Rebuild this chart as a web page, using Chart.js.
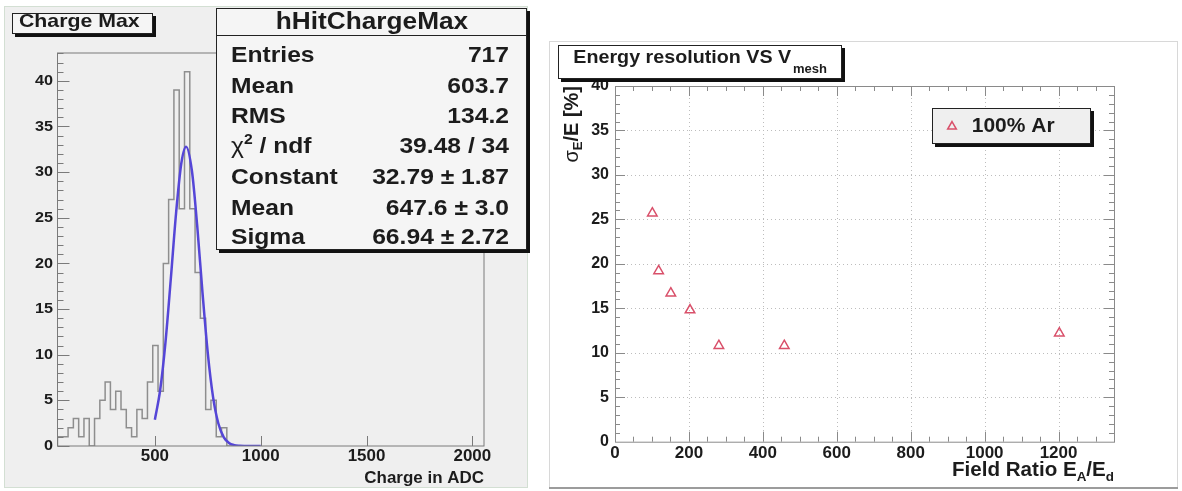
<!DOCTYPE html>
<html>
<head>
<meta charset="utf-8">
<script src="https://cdn.jsdelivr.net/npm/chart.js@4.4.1/dist/chart.umd.min.js"></script>
<style>
  html, body { margin: 0; padding: 0; background: #fff; }
  #wrap { position: relative; width: 1182px; height: 491px; overflow: hidden; }
  #c1 { position: absolute; left: 0; top: 0; }
  #c2 { position: absolute; left: 540px; top: 0; }
</style>
</head>
<body>
<div id="wrap">
  <canvas id="c1" width="540" height="491"></canvas>
  <canvas id="c2" width="642" height="491"></canvas>
</div>
<script>
// ---- left panel: charge histogram ----
const binLow = 40;
const binWidth = 25;
const counts = [1, 1, 1, 2, 3, 1, 3, 0, 3, 5, 7, 4, 6, 4, 2, 1, 4, 3,
                7, 11, 6, 20, 27, 39, 26, 41, 26, 19, 14, 4, 5, 1, 2];
// gaussian fit curve
const fitX = [500, 525, 550, 575, 600, 625, 647.6, 675, 700, 725, 750, 775, 800, 825, 850, 875, 900, 950, 1000];
const fitY = [2.88, 6.13, 11.33, 18.21, 25.46, 30.97, 32.79, 30.15, 24.13, 16.81, 10.18, 5.36, 2.46, 0.98, 0.34, 0.10, 0.03, 0, 0];
const xTicks1 = [500, 1000, 1500, 2000];
const yTicks1 = [0, 5, 10, 15, 20, 25, 30, 35, 40];
const statLabels = ['Entries', 'Mean', 'RMS', 'chi2', 'Constant', 'Mean', 'Sigma'];
const statValues = ['717', '603.7', '134.2', '39.48 / 34', '32.79 \u00b1 1.87', '647.6 \u00b1 3.0', '66.94 \u00b1 2.72'];

// ---- right panel: energy resolution ----
const fieldRatio = [101, 118, 151, 203, 281, 458, 1202];
const resolution = [25.7, 19.2, 16.7, 14.8, 10.8, 10.8, 12.2];
const xTicks2 = [0, 200, 400, 600, 800, 1000, 1200];
const yTicks2 = [0, 5, 10, 15, 20, 25, 30, 35, 40];

const FAM = '"Liberation Sans", Arial, Helvetica, sans-serif';
function font(size, bold) { return (bold ? 'bold ' : '') + size + 'px ' + FAM; }

// simple text, vertically centred
function txt(ctx, s, x, y, o) {
  ctx.save();
  ctx.translate(x, y);
  ctx.scale(o.sx || 1, 1);
  ctx.font = font(o.size, o.bold !== false);
  ctx.textAlign = o.align || 'left';
  ctx.textBaseline = 'middle';
  ctx.fillStyle = o.color || '#1c1c1c';
  ctx.fillText(s, 0, 0);
  ctx.restore();
}

// text made of pieces (sub/superscripts), on an alphabetic baseline
// parts: [text, size, dy, bold]
function rich(ctx, parts, x, y, align, sx) {
  ctx.save();
  ctx.translate(x, y);
  ctx.scale(sx || 1, 1);
  let w = 0;
  parts.forEach(p => { ctx.font = font(p[1], p[3] !== false); w += ctx.measureText(p[0]).width; });
  let cx = align === 'right' ? -w : (align === 'center' ? -w / 2 : 0);
  ctx.textAlign = 'left';
  ctx.textBaseline = 'alphabetic';
  ctx.fillStyle = '#1c1c1c';
  parts.forEach(p => {
    ctx.font = font(p[1], p[3] !== false);
    ctx.fillText(p[0], cx, p[2] || 0);
    cx += ctx.measureText(p[0]).width;
  });
  ctx.restore();
}

// ROOT style pave with a black shadow at right/bottom
function pave(ctx, x, y, w, h, fill, sh) {
  ctx.save();
  ctx.fillStyle = '#111';
  ctx.fillRect(x + sh, y + sh, w, h);
  ctx.fillStyle = fill;
  ctx.fillRect(x, y, w, h);
  ctx.strokeStyle = '#222';
  ctx.lineWidth = 1;
  ctx.strokeRect(x + 0.5, y + 0.5, w - 1, h - 1);
  ctx.restore();
}

function triangle(ctx, x, y, r, color) {
  ctx.save();
  ctx.strokeStyle = color;
  ctx.lineWidth = 1.5;
  ctx.beginPath();
  for (let k = 0; k < 3; k++) {
    const ang = k * 2 * Math.PI / 3;
    const px = x + Math.sin(ang) * r, py = y - Math.cos(ang) * r;
    if (k === 0) ctx.moveTo(px, py); else ctx.lineTo(px, py);
  }
  ctx.closePath();
  ctx.stroke();
  ctx.restore();
}

const leftDecor = {
  id: 'leftDecor',
  beforeDraw(chart) {
    const ctx = chart.ctx;
    ctx.save();
    ctx.fillStyle = '#fff';
    ctx.fillRect(0, 0, chart.width, chart.height);
    ctx.fillStyle = '#efefef';
    ctx.fillRect(4, 6, 523, 481);
    ctx.strokeStyle = '#d3dfd3';
    ctx.lineWidth = 1;
    ctx.strokeRect(4.5, 6.5, 523, 481);
    ctx.restore();
  },
  afterDatasetsDraw(chart) {
    const { ctx, chartArea: a, scales: { x, y } } = chart;
    ctx.save();
    ctx.strokeStyle = '#7a7a7a';
    ctx.lineWidth = 1;
    ctx.strokeRect(a.left, a.top, a.right - a.left, a.bottom - a.top);
    ctx.beginPath();
    for (let v = 0; v <= 43; v++) {
      const py = Math.round(y.getPixelForValue(v)) + 0.5;
      ctx.moveTo(a.left, py);
      ctx.lineTo(a.left + (v % 5 === 0 ? 12 : 6), py);
    }
    xTicks1.forEach(v => {
      const px = Math.round(x.getPixelForValue(v)) + 0.5;
      ctx.moveTo(px, a.bottom);
      ctx.lineTo(px, a.bottom - 10);
    });
    ctx.stroke();
    ctx.restore();

    yTicks1.forEach(v => txt(ctx, String(v), 53, y.getPixelForValue(v), { size: 15, align: 'right', sx: 1.08 }));
    xTicks1.forEach(v => txt(ctx, String(v), x.getPixelForValue(v), 457, { size: 16, align: 'center', sx: 1.06 }));
    rich(ctx, [['Charge in ADC', 16]], 484, 482.5, 'right', 1.06);

    // title
    pave(ctx, 12, 13, 141, 21, '#f5f5f5', 3);
    txt(ctx, 'Charge Max', 19, 22, { size: 18.5, sx: 1.15 });

    // stats box
    pave(ctx, 216, 8, 311, 242, '#f5f5f5', 3);
    ctx.save();
    ctx.strokeStyle = '#222';
    ctx.beginPath();
    ctx.moveTo(216, 35.5);
    ctx.lineTo(527, 35.5);
    ctx.stroke();
    ctx.restore();
    rich(ctx, [['hHitChargeMax', 23]], 372, 28.5, 'center', 1.14);
    const base = [62, 93, 123, 153, 184, 215, 244];
    statLabels.forEach((s, i) => {
      if (s === 'chi2') {
        rich(ctx, [['\u03c7', 22, 0, false], ['2', 14, -9], [' / ndf', 22]], 231, base[i], 'left', 1.12);
      } else {
        rich(ctx, [[s, 22]], 231, base[i], 'left', 1.12);
      }
      rich(ctx, [[statValues[i], 22]], 509, base[i], 'right', 1.12);
    });
  }
};

const histPoints = [{ x: binLow, y: 0 }];
counts.forEach((c, i) => histPoints.push({ x: binLow + i * binWidth, y: c }));
histPoints.push({ x: binLow + counts.length * binWidth, y: 0 });
const fitPoints = fitX.map((v, i) => ({ x: v, y: fitY[i] }));

new Chart(document.getElementById('c1'), {
  type: 'line',
  data: {
    datasets: [
      { data: fitPoints, borderColor: '#5546d7', borderWidth: 2.5, pointRadius: 0,
        cubicInterpolationMode: 'monotone', fill: false, order: 1 },
      { data: histPoints, stepped: 'after', borderColor: '#8e8e8e', borderWidth: 1.5,
        pointRadius: 0, fill: false, order: 2 }
    ]
  },
  options: {
    responsive: false,
    animation: false,
    events: [],
    layout: { padding: { left: 57.5, top: 53, right: 56, bottom: 45 }, autoPadding: false },
    scales: {
      x: { type: 'linear', min: 40, max: 2055, display: false },
      y: { type: 'linear', min: 0, max: 43.05, display: false }
    },
    plugins: { legend: { display: false }, tooltip: { enabled: false } }
  },
  plugins: [leftDecor]
});

const rightDecor = {
  id: 'rightDecor',
  beforeDraw(chart) {
    const ctx = chart.ctx;
    ctx.save();
    ctx.fillStyle = '#fff';
    ctx.fillRect(0, 0, chart.width, chart.height);
    ctx.strokeStyle = '#d8d8d8';
    ctx.lineWidth = 1;
    ctx.strokeRect(9.5, 41.5, 628, 447);
    ctx.fillStyle = '#9c9c9c';
    ctx.fillRect(9, 487, 629, 2);
    ctx.restore();
  },
  beforeDatasetsDraw(chart) {
    const { ctx, chartArea: a, scales: { x, y } } = chart;
    ctx.save();
    ctx.strokeStyle = '#bdbdbd';
    ctx.lineWidth = 1;
    ctx.setLineDash([1, 3]);
    ctx.beginPath();
    xTicks2.slice(1).forEach(v => {
      const px = Math.round(x.getPixelForValue(v)) + 0.5;
      ctx.moveTo(px, a.top);
      ctx.lineTo(px, a.bottom);
    });
    yTicks2.slice(1, -1).forEach(v => {
      const py = Math.round(y.getPixelForValue(v)) + 0.5;
      ctx.moveTo(a.left, py);
      ctx.lineTo(a.right, py);
    });
    ctx.stroke();
    ctx.restore();
  },
  afterDatasetsDraw(chart) {
    const { ctx, chartArea: a, scales: { x, y } } = chart;
    ctx.save();
    ctx.strokeStyle = '#8a8a8a';
    ctx.lineWidth = 1;
    ctx.strokeRect(a.left + 0.5, a.top + 0.5, a.right - a.left, a.bottom - a.top);
    ctx.beginPath();
    for (let v = 50; v < 1350; v += 50) {
      const px = Math.round(x.getPixelForValue(v)) + 0.5;
      const len = v % 200 === 0 ? 10 : 5;
      ctx.moveTo(px, a.bottom); ctx.lineTo(px, a.bottom - len);
      ctx.moveTo(px, a.top); ctx.lineTo(px, a.top + len);
    }
    for (let v = 1; v < 40; v++) {
      const py = Math.round(y.getPixelForValue(v)) + 0.5;
      const len = v % 5 === 0 ? 10 : 5;
      ctx.moveTo(a.left, py); ctx.lineTo(a.left + len, py);
      ctx.moveTo(a.right, py); ctx.lineTo(a.right - len, py);
    }
    ctx.stroke();
    ctx.restore();

    yTicks2.forEach(v => txt(ctx, String(v), 69, y.getPixelForValue(v), { size: 16, align: 'right' }));
    xTicks2.forEach(v => txt(ctx, String(v), x.getPixelForValue(v), 453, { size: 17, align: 'center' }));

    rich(ctx, [['Field Ratio E', 20], ['A', 13, 5], ['/E', 20], ['d', 13, 5]], a.right, 475.5, 'right', 1.03);

    // y title, rotated, ending at the top of the frame
    ctx.save();
    ctx.translate(31, a.top);
    ctx.rotate(-Math.PI / 2);
    rich(ctx, [['\u03c3', 20, 0, false], ['E', 13, 4], ['/E [%]', 20]], 0, 7, 'right', 1);
    ctx.restore();

    // title
    pave(ctx, 18, 45, 284, 34, '#fff', 3);
    rich(ctx, [['Energy resolution VS V', 18.6], [' ', 6], ['mesh', 12.3, 10]], 33.3, 63, 'left', 1.06);

    // legend
    pave(ctx, 392, 108, 159, 36, '#efefef', 3);
    triangle(ctx, 412, 126.5, 5, '#d9506a');
    txt(ctx, '100% Ar', 431.7, 126.5, { size: 21 });
  }
};

new Chart(document.getElementById('c2'), {
  type: 'scatter',
  data: {
    datasets: [{
      label: '100% Ar',
      data: fieldRatio.map((v, i) => ({ x: v, y: resolution[i] })),
      pointStyle: 'triangle',
      pointRadius: 5.5,
      pointBorderColor: '#d9506a',
      pointBackgroundColor: 'rgba(0,0,0,0)',
      pointBorderWidth: 1.5,
      showLine: false
    }]
  },
  options: {
    responsive: false,
    animation: false,
    events: [],
    layout: { padding: { left: 75, top: 86, right: 68, bottom: 49.3 }, autoPadding: false },
    scales: {
      x: { type: 'linear', min: 0, max: 1350, display: false },
      y: { type: 'linear', min: 0, max: 40, display: false }
    },
    plugins: { legend: { display: false }, tooltip: { enabled: false } }
  },
  plugins: [rightDecor]
});
</script>
</body>
</html>
